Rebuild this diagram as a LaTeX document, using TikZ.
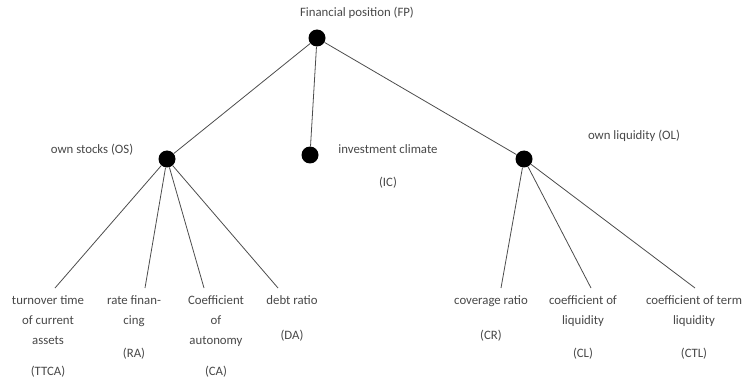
\documentclass[tikz,border=0pt]{standalone}
\usepackage{fontspec}
\setmainfont{Carlito}
\begin{document}
\begin{tikzpicture}[x=1pt,y=-1pt,
  dot/.style={circle,fill=black,inner sep=0pt,minimum width=16pt,minimum height=17pt},
  lbl/.style={font=\fontsize{12.8}{20}\selectfont,text=black!72,align=center,inner sep=0pt,anchor=north},
  link/.style={draw=black!70,line width=0.8pt}]
\useasboundingbox (0,0) rectangle (742,385);
% dots
\node[dot] (fp) at (317,38) {};
\node[dot] (os) at (167,159) {};
\node[dot] (ic) at (310,155) {};
\node[dot] (ol) at (524,159) {};
% top labels
\node[lbl] (fpl) at (357,7) {Financial position (FP)};
\node[lbl] (osl) at (92,144) {own stocks (OS)};
\node[lbl] (icl) at (388,144) {investment climate\\[13pt](IC)};
\node[lbl] (oll) at (634,130) {own liquidity (OL)};
% leaf labels
\node[lbl] (ttca) at (48,295) {turnover time\\of current\\assets\\[11pt](TTCA)};
\node[lbl] (ra) at (134,295) {rate finan-\\cing\\[13pt](RA)};
\node[lbl] (ca) at (216,295) {Coefficient\\of\\autonomy\\[11pt](CA)};
\node[lbl] (da) at (292,295) {debt ratio\\[15pt](DA)};
\node[lbl] (cr) at (491,295) {coverage ratio\\[15pt](CR)};
\node[lbl] (cl) at (583,295) {coefficient of\\liquidity\\[13pt](CL)};
\node[lbl] (ctl) at (694,295) {coefficient of term\\liquidity\\[13pt](CTL)};
% connector end points
\coordinate (ttcaT) at (55,288);
\coordinate (raT) at (145,288);
\coordinate (caT) at (204,288);
\coordinate (daT) at (278,288);
\coordinate (crT) at (501,288);
\coordinate (clT) at (591,288);
\coordinate (ctlT) at (695,288);
% connectors
\draw[link] (fp) -- (os);
\draw[link] (fp) -- (ic);
\draw[link] (fp) -- (ol);
\draw[link] (os) -- (ttcaT);
\draw[link] (os) -- (raT);
\draw[link] (os) -- (caT);
\draw[link] (os) -- (daT);
\draw[link] (ol) -- (crT);
\draw[link] (ol) -- (clT);
\draw[link] (ol) -- (ctlT);
\end{tikzpicture}
\end{document}
